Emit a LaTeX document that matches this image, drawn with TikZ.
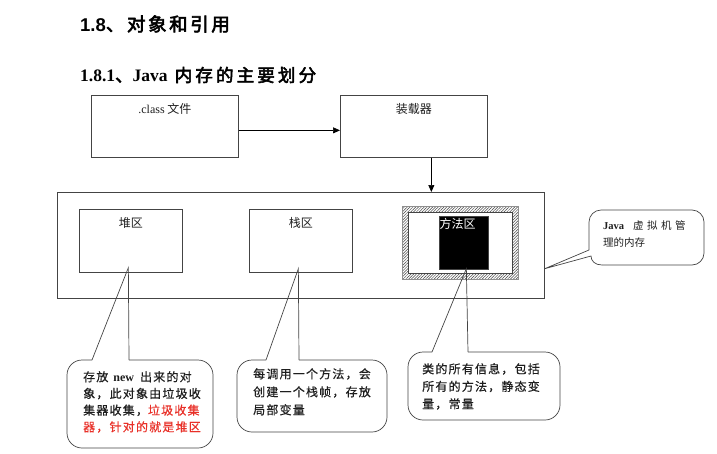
\documentclass[tikz,border=0pt]{standalone}
\usepackage{fontspec}
\setmainfont{Liberation Serif}
\setsansfont{Liberation Sans}
\newfontfamily\cjk{Noto Sans CJK SC}
\newfontfamily\cjkw[LetterSpace=10,FakeBold=0.5]{Noto Sans CJK SC}
\newfontfamily\cjkh[LetterSpace=14,FakeBold=3]{Noto Sans CJK SC}
\newfontfamily\cjkhw[LetterSpace=18,FakeBold=3]{Noto Sans CJK SC}
\usetikzlibrary{arrows.meta,patterns.meta}
\definecolor{figK}{RGB}{68,68,68}
\definecolor{figT}{RGB}{30,30,30}
\definecolor{figR}{RGB}{232,48,40}

\begin{document}
\begin{tikzpicture}[>={Triangle[length=7pt,width=6pt]},x=1pt,y=-1pt,
  box/.style={draw=figK,line width=0.7pt,anchor=north west,inner sep=0pt},
  boxlbl/.style={font=\cjk\fontsize{12}{14}\selectfont,text=figT,anchor=north,inner sep=0pt},
  note/.style={draw=figK,line width=0.7pt,rounded corners=15pt},
  notetxt/.style={font=\cjkw\fontsize{12}{16.7}\selectfont,text=figT,align=left,anchor=north west,inner sep=0pt}]
\useasboundingbox (0,0) rectangle (717,453);
\node[anchor=west,inner sep=0pt,text=black] (h1) at (80,24) {\fontsize{18.5}{20}\selectfont{\sffamily\bfseries 1.8}\cjkh 、对象和引用};
\node[anchor=west,inner sep=0pt,text=black] (h2) at (80,75) {\fontsize{17.5}{20}\selectfont{\rmfamily\bfseries 1.8.1}\cjkhw 、{\rmfamily\bfseries Java} 内存的主要划分};
\node[box,minimum width=147,minimum height=62] (cls) at (91,95) {}; \node[boxlbl] (clsl) at ([yshift=-8pt]cls.north) {{\rmfamily .class} 文件};
\node[box,minimum width=147,minimum height=62] (ldr) at (340,95) {}; \node[boxlbl] (ldrl) at ([yshift=-8pt]ldr.north) {装载器};
\node[box,minimum width=487,minimum height=106] (jvm) at (57,192) {};
\draw[->,line width=0.7pt] ([yshift=-4pt]cls.east) -- ([yshift=-4pt]ldr.west);
\draw[->,line width=0.7pt] ([xshift=17.5pt]ldr.south) -- ([xshift=17.5pt]ldr.south |- jvm.north);
\node[box,minimum width=103,minimum height=63] (heap) at (79,209) {}; \node[boxlbl] (heapl) at ([yshift=-8pt]heap.north) {堆区};
\node[box,minimum width=103,minimum height=63] (stack) at (249,209) {}; \node[boxlbl] (stackl) at ([yshift=-8pt]stack.north) {栈区};
\node[box,draw=figK!60,line width=0.4pt,minimum width=116,minimum height=73,pattern={Lines[angle=45,distance=2pt,line width=0.5pt]},pattern color=figK] (methf) at (402,206) {};
\node[box,fill=white,minimum width=104,minimum height=61] (methi) at (408,212) {};
\node[box,fill=black,minimum width=49,minimum height=53] (meth) at (439,216) {}; \node[boxlbl,text=white,anchor=north west] (methl) at ([xshift=0.5pt,yshift=-2pt]meth.north west) {方法区};
\coordinate (heapTip) at ([xshift=-2.5pt,yshift=5pt]heap.south);
\coordinate (stackTip) at ([xshift=-2.5pt,yshift=4pt]stack.south);
\coordinate (methTip) at ([xshift=2.5pt,yshift=1pt]meth.south);
\coordinate (jvmTip) at ([yshift=30pt]jvm.south east);
\draw[note] (129,360) -- (213,360) -- (213,448) -- (67,448) -- (67,360) -- (92,360); \draw[line width=0.7pt,draw=figK] (92,360) -- (heapTip) -- (129,360);
\draw[note] (299,360) -- (387,360) -- (387,432) -- (237,432) -- (237,360) -- (266,360); \draw[line width=0.7pt,draw=figK] (266,360) -- (stackTip) -- (299,360);
\draw[note] (468,352) -- (560,352) -- (560,420) -- (408,420) -- (408,352) -- (432,352); \draw[line width=0.7pt,draw=figK] (432,352) -- (methTip) -- (468,352);
\draw[note,rounded corners=12pt] (589,250) -- (589,210) -- (704,210) -- (704,265) -- (602,265); \draw[line width=0.7pt,draw=figK] (602,265) .. controls (595,265) and (591,261) .. (591,256) -- (jvmTip) -- (589,250);
\node[notetxt] (heapn) at (83,371) {存放\hspace{5pt}{\rmfamily\bfseries new}\hspace{6pt}出来的对\\象，此对象由垃圾收\\集器收集，\textcolor{figR}{垃圾收集}\\\textcolor{figR}{器，针对的就是堆区}};
\node[notetxt,font=\cjkw\fontsize{12}{18}\selectfont] (stackn) at (253,368) {每调用一个方法，会\\创建一个栈帧，存放\\局部变量};
\node[notetxt,font=\cjkw\fontsize{12}{17.5}\selectfont] (methn) at (422,363) {类的所有信息，包括\\所有的方法，静态变\\量，常量};
\node[notetxt,font=\cjk\fontsize{10.5}{17}\selectfont] (jvmn) at (603,220) {{\rmfamily\bfseries Java}\hspace{9pt}虚\hspace{3.5pt}拟\hspace{3.5pt}机\hspace{3.5pt}管\\理的内存};
\end{tikzpicture}
\end{document}
